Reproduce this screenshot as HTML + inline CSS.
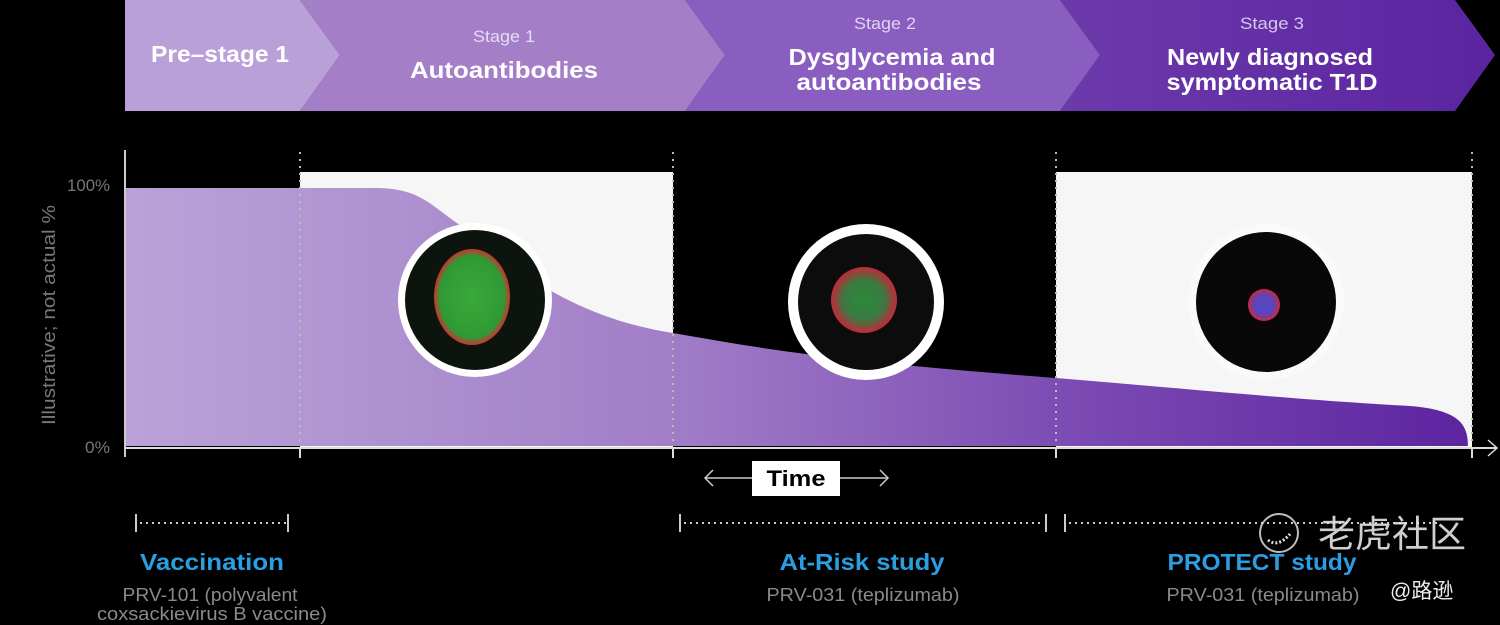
<!DOCTYPE html>
<html><head><meta charset="utf-8"><style>
html,body{margin:0;padding:0;background:#000;}
svg{display:block;font-family:"Liberation Sans","Noto Sans CJK SC",sans-serif;}
</style></head><body>
<svg width="1500" height="625" viewBox="0 0 1500 625" xmlns="http://www.w3.org/2000/svg">
<defs>
<linearGradient id="ag" x1="125" y1="0" x2="1472" y2="0" gradientUnits="userSpaceOnUse">
<stop offset="0" stop-color="#baa2d8"/>
<stop offset="0.13" stop-color="#b298d3"/>
<stop offset="0.4" stop-color="#a27ec7"/>
<stop offset="0.7" stop-color="#7c4bb3"/>
<stop offset="1" stop-color="#5c24a0"/>
</linearGradient>
<linearGradient id="b4" x1="1060" y1="0" x2="1495" y2="0" gradientUnits="userSpaceOnUse">
<stop offset="0" stop-color="#6c3aab"/><stop offset="1" stop-color="#5a24a0"/>
</linearGradient>
<radialGradient id="g1" cx="0.5" cy="0.5" r="0.5"><stop offset="0" stop-color="#3aa83a"/><stop offset="0.85" stop-color="#2f9a35"/><stop offset="1" stop-color="#d03030"/></radialGradient>
<radialGradient id="g2" cx="0.5" cy="0.5" r="0.5"><stop offset="0" stop-color="#2c8a3a"/><stop offset="0.6" stop-color="#3a7a40"/><stop offset="1" stop-color="#c02a3a"/></radialGradient>
<radialGradient id="g3" cx="0.5" cy="0.5" r="0.5"><stop offset="0" stop-color="#4a4acc"/><stop offset="0.7" stop-color="#6a40b0"/><stop offset="1" stop-color="#d02a30"/></radialGradient>
</defs>
<!-- banner -->
<polygon points="1060,0 1455,0 1495,55 1455,111 1060,111 1100,55" fill="url(#b4)"/>
<polygon points="685,0 1060,0 1100,55 1060,111 685,111 725,55" fill="#8a5ec0"/>
<polygon points="300,0 685,0 725,55 685,111 300,111 340,55" fill="#a47ec7"/>
<polygon points="125,0 300,0 340,55 300,111 125,111" fill="#b9a0d8"/>
<g font-weight="bold" font-size="23" fill="#fff" text-anchor="middle">
<text x="220" y="62" textLength="138" lengthAdjust="spacingAndGlyphs">Pre–stage 1</text>
<text x="504" y="78" textLength="188" lengthAdjust="spacingAndGlyphs">Autoantibodies</text>
<text x="892" y="65" textLength="207" lengthAdjust="spacingAndGlyphs">Dysglycemia and</text>
<text x="889" y="90" textLength="185" lengthAdjust="spacingAndGlyphs">autoantibodies</text>
<text x="1270" y="65" textLength="206" lengthAdjust="spacingAndGlyphs">Newly diagnosed</text>
<text x="1272" y="90" textLength="211" lengthAdjust="spacingAndGlyphs">symptomatic T1D</text>
</g>
<text x="504" y="42" fill="#e6dcf2" font-size="17" text-anchor="middle" textLength="62" lengthAdjust="spacingAndGlyphs">Stage 1</text>
<text x="885" y="29" fill="#e0d4ee" font-size="17" text-anchor="middle" textLength="62" lengthAdjust="spacingAndGlyphs">Stage 2</text>
<text x="1272" y="29" fill="#d8c8ec" font-size="17" text-anchor="middle" textLength="64" lengthAdjust="spacingAndGlyphs">Stage 3</text>
<!-- white boxes -->
<rect x="300" y="172" width="373" height="275" fill="#f6f6f6"/>
<rect x="1056" y="172" width="416" height="275" fill="#f6f6f6"/>
<!-- area -->
<path d="M125,188 L375,188 C420,188 430,205 460,225 C530,285 590,320 673,333 C760,348 820,360 1056,378 C1200,390 1300,400 1410,406 C1460,410 1468,425 1468,446 L125,446 Z" fill="url(#ag)"/>
<!-- dotted verticals -->
<g stroke="#bbb" stroke-width="2" stroke-dasharray="2,5">
<line x1="300" y1="152" x2="300" y2="446"/>
<line x1="673" y1="152" x2="673" y2="446"/>
<line x1="1056" y1="152" x2="1056" y2="446"/>
<line x1="1472" y1="152" x2="1472" y2="446"/>
</g>
<!-- axes -->
<line x1="125" y1="150" x2="125" y2="457" stroke="#ccc" stroke-width="2"/>
<line x1="125" y1="448" x2="1497" y2="448" stroke="#ddd" stroke-width="2"/>
<polyline points="1488,440 1497,448 1488,456" fill="none" stroke="#ddd" stroke-width="1.5"/>
<g stroke="#ddd" stroke-width="2">
<line x1="300" y1="448" x2="300" y2="458"/><line x1="673" y1="448" x2="673" y2="458"/>
<line x1="1056" y1="448" x2="1056" y2="458"/><line x1="1472" y1="448" x2="1472" y2="458"/>
</g>
<text x="110" y="191" fill="#777" font-size="17" text-anchor="end" textLength="43" lengthAdjust="spacingAndGlyphs">100%</text>
<text x="110" y="453" fill="#777" font-size="17" text-anchor="end" textLength="25" lengthAdjust="spacingAndGlyphs">0%</text>
<text transform="translate(55,315) rotate(-90)" fill="#777" font-size="18" text-anchor="middle" textLength="220" lengthAdjust="spacingAndGlyphs">Illustrative; not actual %</text>
<!-- circles -->
<circle cx="475" cy="300" r="77" fill="#fff"/><circle cx="475" cy="300" r="70" fill="#0d140d"/>
<ellipse cx="472" cy="297" rx="38" ry="48" fill="url(#g1)"/>
<circle cx="866" cy="302" r="78" fill="#fff"/><circle cx="866" cy="302" r="68" fill="#0c0c0c"/>
<circle cx="864" cy="300" r="33" fill="url(#g2)"/>
<circle cx="1266" cy="302" r="78" fill="#fafafa"/><circle cx="1266" cy="302" r="70" fill="#080808"/>
<circle cx="1264" cy="305" r="16" fill="url(#g3)"/>
<!-- time -->
<line x1="705" y1="478" x2="752" y2="478" stroke="#ccc" stroke-width="1.5"/>
<line x1="840" y1="478" x2="888" y2="478" stroke="#ccc" stroke-width="1.5"/>
<polyline points="713,470 705,478 713,486" fill="none" stroke="#ccc" stroke-width="1.5"/>
<polyline points="880,470 888,478 880,486" fill="none" stroke="#ccc" stroke-width="1.5"/>
<rect x="752" y="461" width="88" height="35" fill="#fff"/>
<text x="796" y="486" font-size="22" font-weight="bold" text-anchor="middle" fill="#000" textLength="59" lengthAdjust="spacingAndGlyphs">Time</text>
<!-- brackets -->
<g stroke="#ccc" stroke-width="2">
<line x1="136" y1="514" x2="136" y2="532"/><line x1="288" y1="514" x2="288" y2="532"/>
<line x1="680" y1="514" x2="680" y2="532"/><line x1="1046" y1="514" x2="1046" y2="532"/>
<line x1="1065" y1="514" x2="1065" y2="532"/>
</g>
<g stroke="#ccc" stroke-width="2" stroke-dasharray="2,4">
<line x1="140" y1="523" x2="286" y2="523"/>
<line x1="684" y1="523" x2="1044" y2="523"/>
<line x1="1069" y1="523" x2="1440" y2="523"/>
</g>
<g font-size="23" font-weight="bold" fill="#2a9ee0" text-anchor="middle">
<text x="212" y="570" textLength="144" lengthAdjust="spacingAndGlyphs">Vaccination</text>
<text x="862" y="570" textLength="165" lengthAdjust="spacingAndGlyphs">At-Risk study</text>
<text x="1262" y="570" textLength="189" lengthAdjust="spacingAndGlyphs">PROTECT study</text>
</g>
<g font-size="18" fill="#8a8a8a" text-anchor="middle">
<text x="210" y="601" textLength="175" lengthAdjust="spacingAndGlyphs">PRV-101 (polyvalent</text>
<text x="212" y="620" textLength="230" lengthAdjust="spacingAndGlyphs">coxsackievirus B vaccine)</text>
<text x="863" y="601" textLength="193" lengthAdjust="spacingAndGlyphs">PRV-031 (teplizumab)</text>
<text x="1263" y="601" textLength="193" lengthAdjust="spacingAndGlyphs">PRV-031 (teplizumab)</text>
</g>
<!-- watermark -->
<circle cx="1279" cy="533" r="19" fill="none" stroke="#ddd" stroke-width="2" opacity="0.85"/>
<path d="M1268,540 q10,8 22,-6" fill="none" stroke="#ddd" stroke-width="3" stroke-dasharray="2,2"/>
<text x="1318" y="547" fill="#e6e6e6" font-size="37" opacity="0.9" font-family="'Noto Sans CJK SC',sans-serif">老虎社区</text>
<text x="1390" y="598" fill="#eee" font-size="21" font-family="'Liberation Sans','Noto Sans CJK SC',sans-serif">@路逊</text>
</svg>
</body></html>
